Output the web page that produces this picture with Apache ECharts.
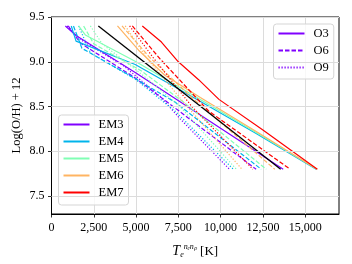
<!DOCTYPE html>
<html><head><meta charset="utf-8">
<script src="https://cdn.jsdelivr.net/npm/echarts@6/dist/echarts.min.js"></script>
<style>html,body{margin:0;padding:0;background:#fff}#c{width:352px;height:264px}</style>
</head><body><div id="c"></div>
<script>
// categories / legend labels
const emNames = ['EM3', 'EM4', 'EM5', 'EM6', 'EM7'];
const oNames = ['O3', 'O6', 'O9'];
const xTicks = [0, 2500, 5000, 7500, 10000, 12500, 15000];
const yTicks = [7.5, 8.0, 8.5, 9.0, 9.5];

// series values: [T_e (K), log(O/H)+12]
const em3_o3 = [[820,9.4],[1470,9.29],[2230,9.2],[4950,8.88],[7400,8.58],[13700,7.8]];
const em3_o6 = [[990,9.4],[1700,9.21],[4950,8.82],[12100,7.8]];
const em3_o9 = [[920,9.4],[1700,9.25],[4300,8.95],[6500,8.6],[7620,8.36],[10520,7.8]];
const em4_o3 = [[1170,9.4],[1450,9.23],[4950,8.97],[8400,8.6],[12100,8.2],[15650,7.8]];
const em4_o6 = [[1300,9.4],[1800,9.15],[4600,8.85],[7300,8.55],[12400,7.8]];
const em4_o9 = [[1600,9.4],[2300,9.1],[5000,8.8],[7300,8.45],[10750,7.8]];
const em5_o3 = [[1600,9.4],[2000,9.3],[5000,9.0],[8600,8.6],[12200,8.2],[15700,7.8]];
const em5_o6 = [[1900,9.4],[2500,9.2],[5300,8.9],[7800,8.55],[12700,7.8]];
const em5_o9 = [[2300,9.4],[3000,9.2],[5400,8.85],[7600,8.5],[10930,7.8]];
const em6_o3 = [[3900,9.4],[5200,9.12],[6700,8.85],[8800,8.6],[12300,8.2],[15700,7.8]];
const em6_o6 = [[4170,9.4],[5800,9.05],[8300,8.6],[13200,7.8]];
const em6_o9 = [[4360,9.4],[5600,9.05],[7800,8.55],[11260,7.8]];
const em7_o3 = [[5370,9.4],[6500,9.22],[7500,9.0],[8700,8.8],[9900,8.58],[12480,8.24],[15720,7.8]];
const em7_o6 = [[4780,9.4],[6430,9.03],[9290,8.45],[14110,7.8]];
const em7_o9 = [[4620,9.4],[6000,9.05],[8300,8.5],[11910,7.8]];
const reference = [[2770,9.4],[13550,7.8]];

const lines = [
  [em3_o3, em3_o6, em3_o9],
  [em4_o3, em4_o6, em4_o9],
  [em5_o3, em5_o6, em5_o9],
  [em6_o3, em6_o6, em6_o9],
  [em7_o3, em7_o6, em7_o9]
];

const colors = ['#8000ff', '#00b4eb', '#80ffb4', '#ffb462', '#ff0000'];
const dashes = ['solid', [4.5, 2], [1.2, 1.8]];
const FONT = 'Liberation Serif';

const series = [];
// grid lines for y (custom tick values)
series.push({
  type: 'line', data: [], silent: true, z: 0, animation: false,
  markLine: {
    silent: true, symbol: 'none', animation: false, label: {show: false},
    lineStyle: {color: '#dcdcdc', type: 'solid', width: 1},
    data: yTicks.map(v => ({yAxis: v}))
  }
});
lines.forEach((grp, i) => {
  grp.forEach((d, j) => {
    series.push({
      type: 'line', name: emNames[i] + '_' + oNames[j], data: d,
      symbol: 'none', animation: false, silent: true, z: 3,
      lineStyle: {color: colors[i], width: 1.2, type: dashes[j]}
    });
  });
});
series.push({
  type: 'line', name: 'ref', data: reference, symbol: 'none', animation: false, silent: true, z: 4,
  lineStyle: {color: '#000', width: 1.3}
});
// legend-only series
emNames.forEach((n, i) => series.push({
  type: 'line', name: n, data: [], symbol: 'none', itemStyle: {color: colors[i]},
  lineStyle: {color: colors[i], width: 1.3, type: 'solid'}
}));
oNames.forEach((n, j) => series.push({
  type: 'line', name: n, data: [], symbol: 'none', itemStyle: {color: colors[0]},
  lineStyle: {color: colors[0], width: 1.3, type: dashes[j]}
}));

const legendCommon = {
  orient: 'vertical', itemWidth: 26, itemHeight: 14, itemGap: 4,
  backgroundColor: 'rgba(255,255,255,0.8)', borderColor: '#d5d5d5', borderWidth: 1, borderRadius: 3,
  selectedMode: false,
  itemStyle: {opacity: 0, borderWidth: 0},
  textStyle: {fontFamily: FONT, fontSize: 12.5, color: '#000', padding: [0, 0, 0, 4]}
};

const chart = echarts.init(document.getElementById('c'), null, {renderer: 'canvas'});
chart.setOption({
  animation: false,
  grid: {left: 51.5, right: 13, top: 17, bottom: 50, show: true, borderColor: '#000', borderWidth: 1,
    containLabel: false, outerBoundsMode: 'none'},
  legend: [
    Object.assign({}, legendCommon, {data: emNames, left: 58.5, top: 115, padding: [3, 5, 6, 4]}),
    Object.assign({}, legendCommon, {data: oNames, left: 273.5, top: 24, padding: [3, 5, 5, 4]})
  ],
  xAxis: {
    type: 'value', min: 0, max: 17000, interval: 2500,
    name: '{it|T}{sub|e}{sup|nₑnₚ} {n|[K]}', nameLocation: 'middle', nameGap: 29,
    nameMoveOverlap: false,
    nameTextStyle: {
      rich: {
        it: {fontFamily: FONT, fontStyle: 'italic', fontSize: 14, color: '#000'},
        sub: {fontFamily: FONT, fontStyle: 'italic', fontSize: 8, color: '#000', padding: [6, 0, 0, 0]},
        sup: {fontFamily: FONT, fontStyle: 'italic', fontSize: 8, color: '#000', padding: [0, 0, 9, 0]},
        n: {fontFamily: FONT, fontSize: 13, color: '#000'}
      }
    },
    axisLine: {show: true, lineStyle: {color: '#000', width: 1}},
    axisTick: {show: true, length: 3.5, lineStyle: {color: '#000', width: 0.8}, customValues: xTicks},
    axisLabel: {fontFamily: FONT, fontSize: 12, color: '#000', margin: 8, customValues: xTicks},
    splitLine: {show: true, lineStyle: {color: '#dcdcdc', width: 1}}
  },
  yAxis: {
    type: 'value', min: 7.3, max: 9.5,
    name: 'Log(O/H) + 12', nameLocation: 'middle', nameGap: 28, nameRotate: 90,
    nameMoveOverlap: false,
    nameTextStyle: {fontFamily: FONT, fontSize: 12.5, color: '#000'},
    axisLine: {show: true, lineStyle: {color: '#000', width: 1}},
    axisTick: {show: true, length: 3.5, lineStyle: {color: '#000', width: 0.8}, customValues: yTicks},
    axisLabel: {fontFamily: FONT, fontSize: 12, color: '#000', margin: 7, customValues: yTicks,
      formatter: v => v.toFixed(1)},
    splitLine: {show: false}
  },
  series: series
});
</script></body></html>
